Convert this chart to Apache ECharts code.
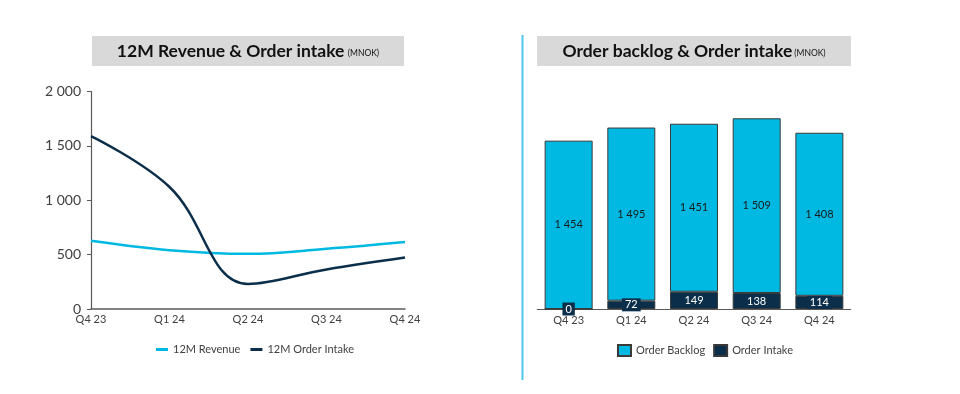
<!DOCTYPE html>
<html><head><meta charset="utf-8">
<script src="https://cdn.jsdelivr.net/npm/echarts@6/dist/echarts.min.js"></script>
<style>html,body{margin:0;padding:0;background:#fff}#c{width:960px;height:394px}</style>
</head><body><div id="c"></div>
<script>
const quarters = ['Q4 23','Q1 24','Q2 24','Q3 24','Q4 24'];
const revenue12m = [627, 541, 507, 553, 615];
const orderIntake12m = [1590, 1122, 230, 364, 474];
const orderBacklog = [1454, 1495, 1451, 1509, 1408];
const orderIntakeQ = [0, 72, 149, 138, 114];
const leftTicks = [0, 500, 1000, 1500, 2000];

const LB = '#00B9E3', NAVY = '#0B2E4A', TXT = '#404040';
const FONT = 'Lato';
const fmt = v => String(v).replace(/\B(?=(\d{3})+(?!\d))/g, ' ');

const chart = echarts.init(document.getElementById('c'), null, {renderer:'canvas'});
chart.setOption({
  animation:false,
  textStyle:{fontFamily:FONT},
  graphic:[
    {type:'rect', shape:{x:92,y:36,width:312,height:30}, style:{fill:'#d9d9d9'}},
    {type:'text', x:248, y:51, style:{text:'{a|12M Revenue & Order intake} {b|(MNOK)}', align:'center', verticalAlign:'middle',
      rich:{a:{fontFamily:FONT,fontWeight:'bold',fontSize:17.5,fill:'#111'}, b:{fontFamily:FONT,fontSize:8.5,fill:'#111',padding:[4,0,0,0]}}}},
    {type:'rect', shape:{x:537,y:36,width:314,height:30}, style:{fill:'#d9d9d9'}},
    {type:'text', x:694, y:51, style:{text:'{a|Order backlog & Order intake}{b|(MNOK)}', align:'center', verticalAlign:'middle',
      rich:{a:{fontFamily:FONT,fontWeight:'bold',fontSize:17.5,fill:'#111'}, b:{fontFamily:FONT,fontSize:8.5,fill:'#111',padding:[4,0,0,2]}}}},
    {type:'line', shape:{x1:522.5,y1:35,x2:522.5,y2:380}, style:{stroke:'#4FC6EC', lineWidth:2}}
  ],
  legend:[
    {data:['12M Revenue','12M Order Intake'], left:151, top:339, itemWidth:12, itemHeight:3, icon:'rect', itemGap:10,
      textStyle:{fontFamily:FONT,fontSize:11,color:TXT}},
    {data:['Order Backlog','Order Intake'], left:612, top:339, itemWidth:13, itemHeight:11, icon:'rect', itemGap:8,
      textStyle:{fontFamily:FONT,fontSize:11,color:TXT}}
  ],
  grid:[
    {left:91, right:555, top:91.5, bottom:85, containLabel:false},
    {left:537.3, right:109.3, top:77.4, bottom:85, containLabel:false}
  ],
  xAxis:[
    {type:'category', gridIndex:0, data:quarters, boundaryGap:false,
      axisLine:{lineStyle:{color:'#595959',width:1.5}}, axisTick:{show:false},
      axisLabel:{fontFamily:FONT,fontSize:11,color:TXT,margin:5,interval:0}},
    {type:'category', gridIndex:1, data:quarters,
      axisLine:{lineStyle:{color:'#595959',width:1.2}}, axisTick:{show:false},
      axisLabel:{fontFamily:FONT,fontSize:11,color:TXT,margin:6,interval:0}}
  ],
  yAxis:[
    {type:'value', gridIndex:0, min:0, max:2000, interval:500,
      axisLine:{show:true,lineStyle:{color:'#595959',width:1.2}}, axisTick:{show:true,length:4,lineStyle:{color:'#595959'}},
      splitLine:{show:false},
      axisLabel:{fontFamily:FONT,fontSize:14,color:TXT,margin:10,formatter:v=>leftTicks.includes(v)?fmt(v):''}},
    {type:'value', gridIndex:1, min:0, max:2000, show:false, splitLine:{show:false}}
  ],
  series:[
    {name:'12M Revenue', type:'line', xAxisIndex:0, yAxisIndex:0, data:revenue12m, smooth:0.4, showSymbol:false,
      lineStyle:{color:LB,width:2.5}, itemStyle:{color:LB}},
    {name:'12M Order Intake', type:'line', xAxisIndex:0, yAxisIndex:0, data:orderIntake12m, smooth:0.4, showSymbol:false,
      lineStyle:{color:NAVY,width:2.5}, itemStyle:{color:NAVY}},
    {name:'Order Intake', type:'bar', xAxisIndex:1, yAxisIndex:1, stack:'s', data:orderIntakeQ, barWidth:48,
      itemStyle:{color:NAVY, borderColor:'#3a3a3a', borderWidth:1},
      label:{show:true, position:'inside', formatter:p=>fmt(p.value), fontFamily:FONT, fontSize:11, color:'#fff',
        backgroundColor:NAVY, padding:[1,3]}},
    {name:'Order Backlog', type:'bar', xAxisIndex:1, yAxisIndex:1, stack:'s', data:orderBacklog, barWidth:48,
      itemStyle:{color:LB, borderColor:'#3a3a3a', borderWidth:1},
      label:{show:true, position:'inside', formatter:p=>fmt(p.value), fontFamily:FONT, fontSize:11, color:'#1a1a1a'}}
  ]
});
</script></body></html>
